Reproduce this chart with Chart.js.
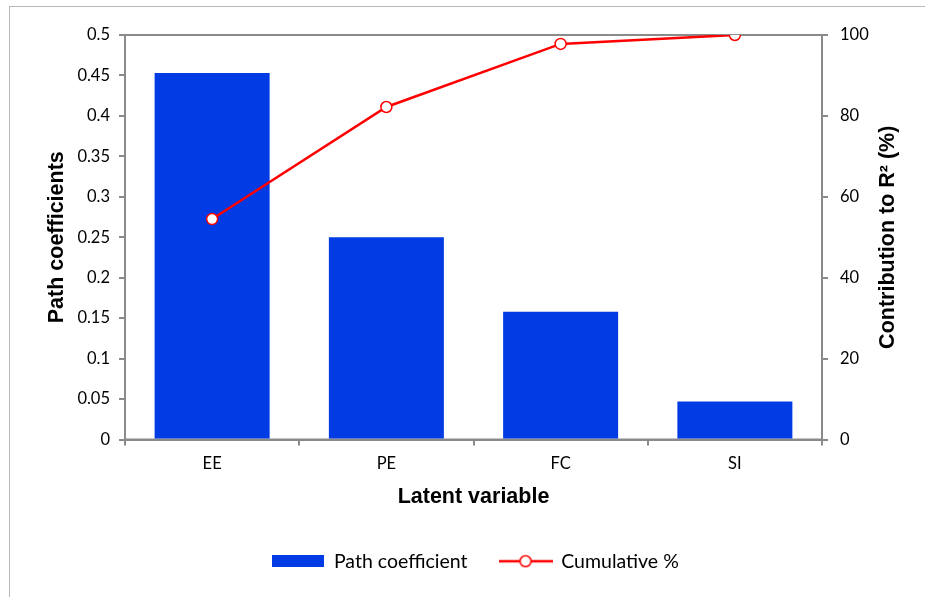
<!DOCTYPE html>
<html>
<head>
<meta charset="utf-8">
<script src="https://cdn.jsdelivr.net/npm/chart.js@4"></script>
<style>
html,body{margin:0;padding:0;background:#fff;overflow:hidden}
#frame{position:absolute;left:9px;top:6px;width:2000px;height:2000px;border:1px solid #b8b8b8}
#c{position:absolute;left:0;top:0}
</style>
</head>
<body>
<div id="frame"></div>
<canvas id="c" width="925" height="597"></canvas>
<script>
// data
let categories = ["EE", "PE", "FC", "SI"]
let pathCoef = [0.453, 0.25, 0.158, 0.047]
let cumulative = [54.5, 82.2, 97.8, 100]

let barLabel = "Path coefficient"
let lineLabel = "Cumulative %"
let blue = "#003be3"
let red = "#ff0000"
let gray = "#8a8a8a"
let tickFont = {family: "Lato", size: 16.5}
let titleFont = {family: "'Liberation Sans', Arial", size: 21.5, weight: "bold"}

// legend symbols
function barSymbol() {
    let cv = document.createElement("canvas")
    cv.width = 52; cv.height = 12
    let g = cv.getContext("2d")
    g.fillStyle = blue
    g.fillRect(0, 0, 52, 12)
    return cv
}
function lineSymbol() {
    let cv = document.createElement("canvas")
    cv.width = 54; cv.height = 14
    let g = cv.getContext("2d")
    g.strokeStyle = red
    g.lineWidth = 2.5
    g.beginPath(); g.moveTo(0, 7); g.lineTo(54, 7); g.stroke()
    g.fillStyle = "#fff"
    g.lineWidth = 1.5
    g.beginPath(); g.arc(27, 7, 5.5, 0, Math.PI * 2); g.fill(); g.stroke()
    return cv
}

// plot box + right-hand title (reads bottom to top)
let extras = {
    id: "extras",
    afterLayout(chart) {
        // legend sits a bit right of centre in the original
        chart.legend.left += 13
        chart.legend.right += 13
    },
    beforeDatasetsDraw(chart) {
        let a = chart.chartArea, ctx = chart.ctx
        ctx.save()
        ctx.strokeStyle = gray
        ctx.lineWidth = 2
        ctx.strokeRect(a.left, a.top, a.right - a.left, a.bottom - a.top)
        ctx.restore()
    },
    afterDraw(chart) {
        let a = chart.chartArea, ctx = chart.ctx
        ctx.save()
        ctx.translate(888, (a.top + a.bottom) / 2)
        ctx.rotate(-Math.PI / 2)
        ctx.font = "bold 21.5px 'Liberation Sans', Arial"
        ctx.fillStyle = "#000"
        ctx.textAlign = "center"
        ctx.textBaseline = "middle"
        ctx.fillText("Contribution to R\u00b2 (%)", 0, 0)
        ctx.restore()
    }
}

new Chart(document.getElementById("c"), {
    type: "bar",
    data: {
        labels: categories,
        datasets: [{
            type: "bar",
            label: barLabel,
            data: pathCoef,
            backgroundColor: blue,
            borderWidth: 0,
            barPercentage: 0.66,
            categoryPercentage: 1,
            yAxisID: "y",
            order: 1
        }, {
            type: "line",
            label: lineLabel,
            data: cumulative,
            borderColor: red,
            borderWidth: 2.5,
            pointRadius: 5.5,
            pointBackgroundColor: "#fff",
            pointBorderColor: red,
            pointBorderWidth: 1.5,
            tension: 0,
            yAxisID: "y1",
            order: 0
        }]
    },
    options: {
        responsive: false,
        animation: false,
        layout: {padding: {top: 35, left: 0, right: 0, bottom: 16}},
        plugins: {
            tooltip: {enabled: false},
            legend: {
                position: "bottom",
                labels: {
                    usePointStyle: true,
                    pointStyleWidth: 52,
                    padding: 32,
                    color: "#000",
                    font: {family: "Lato", size: 19.5},
                    generateLabels: function() {
                        return [
                            {text: barLabel, pointStyle: barSymbol(), fillStyle: blue, strokeStyle: blue, lineWidth: 0, hidden: false, datasetIndex: 0},
                            {text: lineLabel, pointStyle: lineSymbol(), fillStyle: red, strokeStyle: red, lineWidth: 0, hidden: false, datasetIndex: 1}
                        ]
                    }
                }
            }
        },
        scales: {
            x: {
                grid: {drawOnChartArea: false, tickLength: 6, color: gray, lineWidth: 2},
                border: {color: gray, width: 2},
                ticks: {color: "#000", font: tickFont, padding: 8},
                title: {display: true, text: "Latent variable", color: "#000",
                        font: titleFont, padding: {top: 0, bottom: 10}},
                afterFit: function(s) { s.height = 80 }
            },
            y: {
                position: "left",
                min: 0, max: 0.5,
                grid: {drawOnChartArea: false, tickLength: 6, color: gray, lineWidth: 2},
                border: {color: gray, width: 2},
                ticks: {stepSize: 0.05, color: "#000", font: tickFont, padding: 9,
                        callback: v => String(Number(v.toFixed(2)))},
                title: {display: true, text: "Path coefficients", color: "#000",
                        font: titleFont, padding: {top: 44, bottom: 0}},
                afterFit: function(s) { s.width = 125 }
            },
            y1: {
                position: "right",
                min: 0, max: 100,
                grid: {drawOnChartArea: false, tickLength: 6, color: gray, lineWidth: 2},
                border: {color: gray, width: 2},
                ticks: {stepSize: 20, color: "#000", font: tickFont, padding: 12},
                afterFit: function(s) { s.width = 103 }
            }
        }
    },
    plugins: [extras]
})
</script>
</body>
</html>
